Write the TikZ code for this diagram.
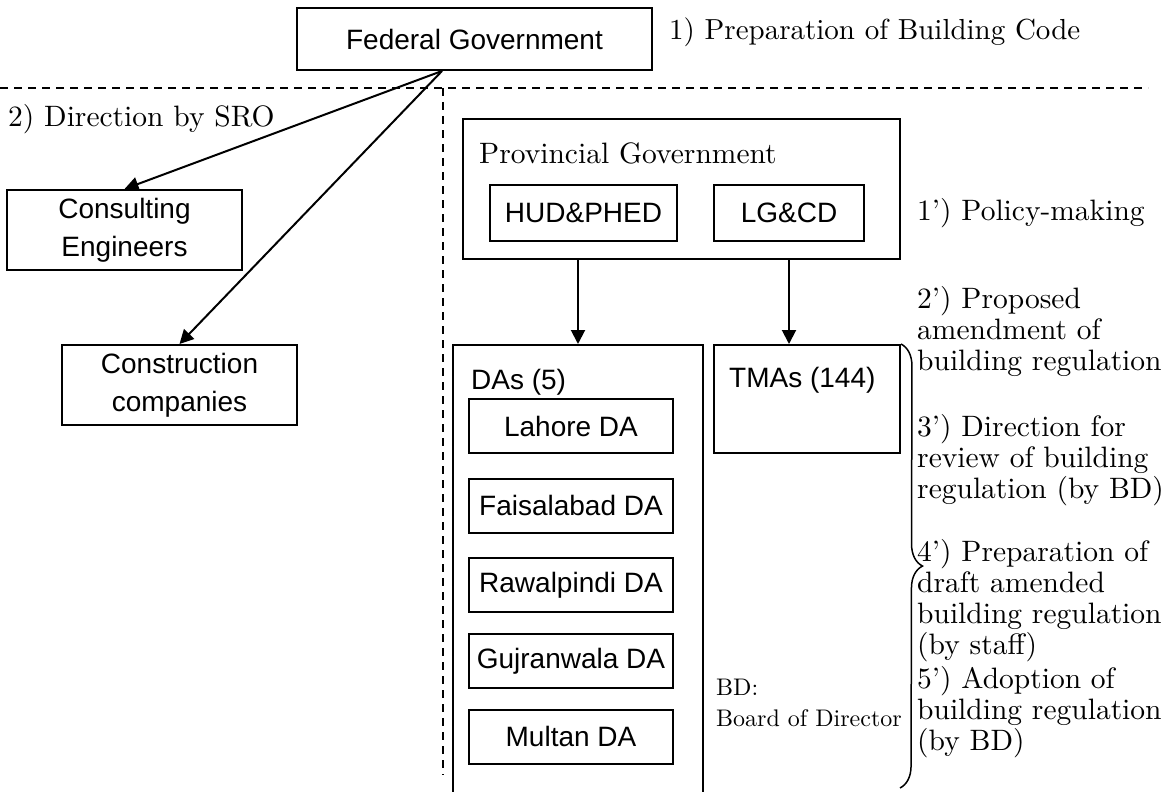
\documentclass[tikz,border=0pt]{standalone}
\usepackage{fontspec}
\setmainfont{lmroman10-regular.otf}
\newfontfamily\arialfont{Liberation Sans}
\usetikzlibrary{arrows.meta,decorations.pathreplacing}
\begin{document}
\begin{tikzpicture}[x=1pt,y=-1pt,
  box/.style={draw, line width=2pt, inner sep=0pt, align=center,
    font=\arialfont\fontsize{28}{38}\selectfont},
  note/.style={inner sep=0pt, align=left, font=\fontsize{29.5}{31}\selectfont},
  small/.style={inner sep=0pt, align=left, font=\fontsize{24}{31}\selectfont},
  plain/.style={inner sep=0pt, font=\arialfont\fontsize{28}{34}\selectfont},
  link/.style={line width=2pt, -{Triangle[length=14pt,width=14pt]}},
  divider/.style={line width=1.3pt, dash pattern=on 8pt off 6pt}]
\path[use as bounding box, clip] (0,0) rectangle (1171,792);
\fill[white] (0,0) rectangle (1171,792);

% federal level
\node[box, minimum width=355pt, minimum height=62pt] (fed) at (474.5,39) {Federal Government};
\node[note, anchor=west, font=\fontsize{29}{31}\selectfont] (codelabel) at (669,32) {1) Preparation of Building Code};

% dividing lines
\draw[divider] (0,88) -- (1148,88);
\draw[divider] (443,88) -- (443,775);

% private sector
\node[note, anchor=west] (sro) at (8,119) {2) Direction by SRO};
\node[box, minimum width=235pt, minimum height=80pt] (cons) at (124.5,230) {Consulting\\Engineers};
\node[box, minimum width=235pt, minimum height=80pt] (constr) at (179.5,385) {Construction\\companies};
\coordinate (fedfoot) at ([xshift=-32.5pt]fed.south);
\draw[link] (fedfoot) -- (cons.north);
\draw[link] (fedfoot) -- (constr.north);

% provincial level
\node[box, minimum width=437pt, minimum height=140pt] (prov) at (681.5,189) {};
\node[note, anchor=west] (provlabel) at (479,153) {Provincial Government};
\node[box, minimum width=187pt, minimum height=56pt] (hud) at (583.5,213) {HUD\&PHED};
\node[box, minimum width=150pt, minimum height=56pt] (lg) at (789,213) {LG\&CD};
\node[note, anchor=west] (n1) at (917,213) {1') Policy-making};

% local authorities
\node[box, minimum width=250pt, minimum height=455pt] (das) at (578,572.5) {};
\node[plain, anchor=west] (daslabel) at (471,382) {DAs (5)};
\node[box, minimum width=204pt, minimum height=54pt] (lahore) at (571,426) {Lahore DA};
\node[box, minimum width=204pt, minimum height=54pt] (faisal) at (571,505.5) {Faisalabad DA};
\node[box, minimum width=204pt, minimum height=54pt] (rawal) at (571,585) {Rawalpindi DA};
\node[box, minimum width=204pt, minimum height=54pt] (gujran) at (571,661) {Gujranwala DA};
\node[box, minimum width=204pt, minimum height=54pt] (multan) at (571,736.5) {Multan DA};
\node[box, minimum width=186pt, minimum height=108pt] (tmas) at (807,399) {};
\node[plain, anchor=west] (tmaslabel) at (729,380) {TMAs (144)};

\draw[link] (das.north |- prov.south) -- (das.north);
\draw[link] (lg.south |- prov.south) -- (lg.south |- tmas.north);

\node[small, anchor=north west] (bd) at (716,679) {BD:\\Board of Director};

% procedure of the local authorities
\coordinate (braceend) at (900,788);
\draw[line width=1.5pt, decorate, decoration={brace, amplitude=22pt}] (tmas.north east) -- (braceend);
\node[note, anchor=north west] (n2) at (917,286) {2') Proposed\\amendment of\\building regulation};
\node[note, anchor=north west] (n3) at (917,414) {3') Direction for\\review of building\\regulation (by BD)};
\node[note, anchor=north west] (n4) at (917,539) {4') Preparation of\\draft amended\\building regulation\\(by staff)};
\node[note, anchor=north west] (n5) at (917,666) {5') Adoption of\\building regulation\\(by BD)};
\end{tikzpicture}
\end{document}
